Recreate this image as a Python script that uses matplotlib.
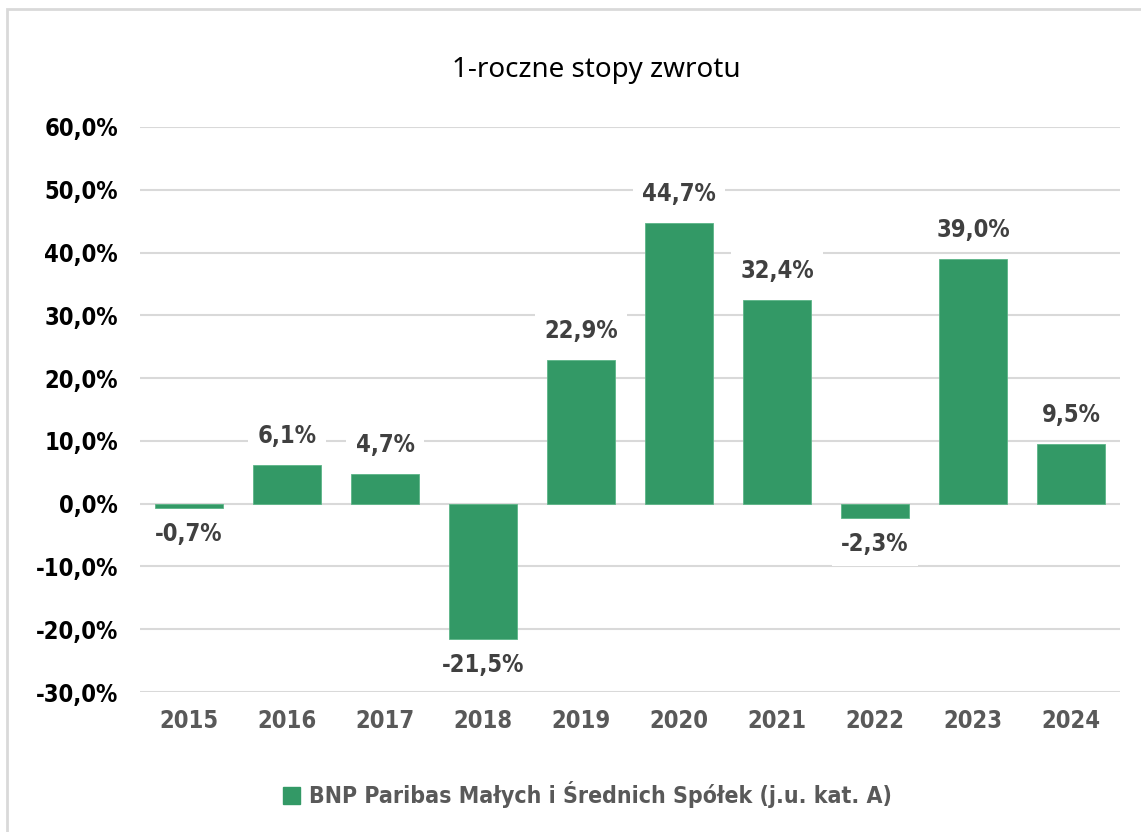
import matplotlib
matplotlib.use('Agg')
import matplotlib.pyplot as plt
from matplotlib.patches import Rectangle
from matplotlib.ticker import FuncFormatter

# dane: 1-roczne stopy zwrotu funduszu
years = ['2015', '2016', '2017', '2018', '2019', '2020', '2021', '2022', '2023', '2024']
returns = [-0.7, 6.1, 4.7, -21.5, 22.9, 44.7, 32.4, -2.3, 39.0, 9.5]
series_name = 'BNP Paribas Małych i Średnich Spółek (j.u. kat. A)'
chart_title = '1-roczne stopy zwrotu'

GREEN = '#339966'
NUM = dict(family='DejaVu Sans', weight='bold', stretch='condensed', size=17)

def pl_pct(v, pos=None):
    return f"{v:.1f}%".replace('.', ',')

fig = plt.figure(figsize=(11.41, 8.32), dpi=100)
fig.patch.set_facecolor('white')

# ramka wokol wykresu
fig.patches.append(Rectangle((7/1141, -0.05), 1.2, 1 - 9/832 + 0.05,
                             transform=fig.transFigure, fill=False,
                             edgecolor='#d9d9d9', linewidth=2))

ax = fig.add_axes([140/1141, 140/832, 980/1141, 565/832])
x = range(len(years))
ax.bar(x, returns, width=0.69, color=GREEN, edgecolor='#5cb587', linewidth=0.6, zorder=2)

ax.set_xlim(-0.5, len(years) - 0.5)
ax.set_ylim(-30, 60)
ax.set_yticks(range(-30, 61, 10))
ax.yaxis.set_major_formatter(FuncFormatter(pl_pct))
ax.set_xticks(list(x))
ax.set_xticklabels(years)
ax.grid(axis='y', color='#d9d9d9', linewidth=1.5, zorder=0)
ax.set_axisbelow(True)
for sp in ax.spines.values():
    sp.set_visible(False)
ax.tick_params(length=0)
ax.tick_params(axis='y', pad=16)
ax.tick_params(axis='x', pad=12)
for lab in ax.get_yticklabels():
    lab.set(**NUM, color='black')
for lab in ax.get_xticklabels():
    lab.set(**NUM, color='#595959')

for i, v in enumerate(returns):
    off = 21 if v >= 0 else -19
    ax.annotate(pl_pct(v), (i, v), xytext=(0, off), textcoords='offset points',
                ha='center', va='center', color='#404040', zorder=3, **NUM,
                bbox=dict(boxstyle='square,pad=0.4', fc='white', ec='none'))

fig.text(0.523, 1 - 70/832, chart_title, ha='center', va='center',
         fontsize=20, family=['Noto Sans', 'DejaVu Sans'], color='black')

h = Rectangle((0, 0), 1, 1, color=GREEN)
leg = fig.legend([h], [series_name], loc='center', bbox_to_anchor=(0.515, 1 - 795/832),
                 frameon=False, handlelength=0.7, handleheight=0.7, handletextpad=0.4,
                 prop={'family': 'DejaVu Sans', 'weight': 'bold', 'stretch': 'condensed', 'size': 16.6})
for t in leg.get_texts():
    t.set_color('#595959')

fig.savefig('out.png', dpi=100)
